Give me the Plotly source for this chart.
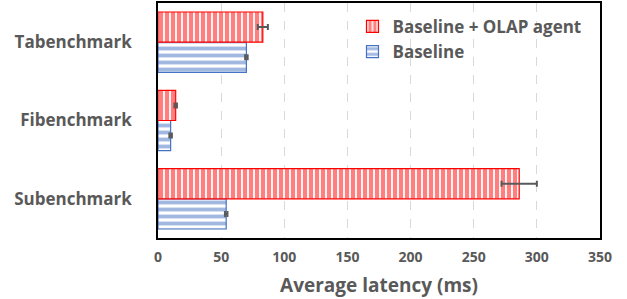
import plotly.graph_objects as go

categories = ["Tabenchmark", "Fibenchmark", "Subenchmark"]
baseline = [70, 10, 54]
baseline_err = [1, 1, 1]
olap = [83, 14, 286]
olap_err = [4, 1, 14]
x_ticks = [0, 50, 100, 150, 200, 250, 300, 350]

gray = "#595959"
font_family = "Open Sans, Liberation Sans, sans-serif"

fig = go.Figure()
fig.add_trace(go.Bar(
    name="Baseline", y=categories, x=baseline, orientation="h",
    marker=dict(color="white", line=dict(color="#4472C4", width=1.2),
                pattern=dict(shape="-", fgcolor="#4472C4", bgcolor="white", size=7, solidity=0.55)),
    error_x=dict(type="data", array=baseline_err, color=gray, thickness=2, width=3),
))
fig.add_trace(go.Bar(
    name="Baseline + OLAP agent", y=categories, x=olap, orientation="h",
    marker=dict(color="white", line=dict(color="#FF0000", width=1.2),
                pattern=dict(shape="|", fgcolor="#FF0000", bgcolor="white", size=6, solidity=0.7)),
    error_x=dict(type="data", array=olap_err, color=gray, thickness=2, width=3),
))

fig.update_layout(
    width=627, height=299,
    margin=dict(l=158, r=27, t=3, b=61, autoexpand=False),
    barmode="group", bargap=0.23, bargroupgap=0,
    plot_bgcolor="white", paper_bgcolor="white",
    font=dict(family=font_family, color=gray),
    legend=dict(x=0.44, y=0.975, xanchor="left", yanchor="top", traceorder="reversed",
                font=dict(size=17, color=gray, weight="bold"), bgcolor="rgba(0,0,0,0)",
                itemwidth=30, tracegroupgap=0),
    showlegend=True,
)
fig.update_xaxes(
    range=[0, 350], tickvals=x_ticks, showgrid=True, gridcolor="#D9D9D9", griddash="dash", gridwidth=1.2,
    showline=True, linecolor="black", linewidth=1.5, mirror=True, zeroline=False, automargin=False,
    tickfont=dict(size=14, color=gray, weight="bold"), ticks="", ticklabelstandoff=5,
    title=dict(text="Average latency (ms)", font=dict(size=19, color=gray, weight="bold"), standoff=14),
)
fig.update_yaxes(
    categoryorder="array", categoryarray=categories[::-1], automargin=False,
    showline=True, linecolor="black", linewidth=1.5, mirror=True, showgrid=False,
    tickfont=dict(size=17, color=gray, weight="bold"), ticks="", ticklabelstandoff=21,
)

fig.write_html("out.html", config={"displayModeBar": False},
               post_script="document.body.style.margin='0';document.body.style.overflow='hidden';")
